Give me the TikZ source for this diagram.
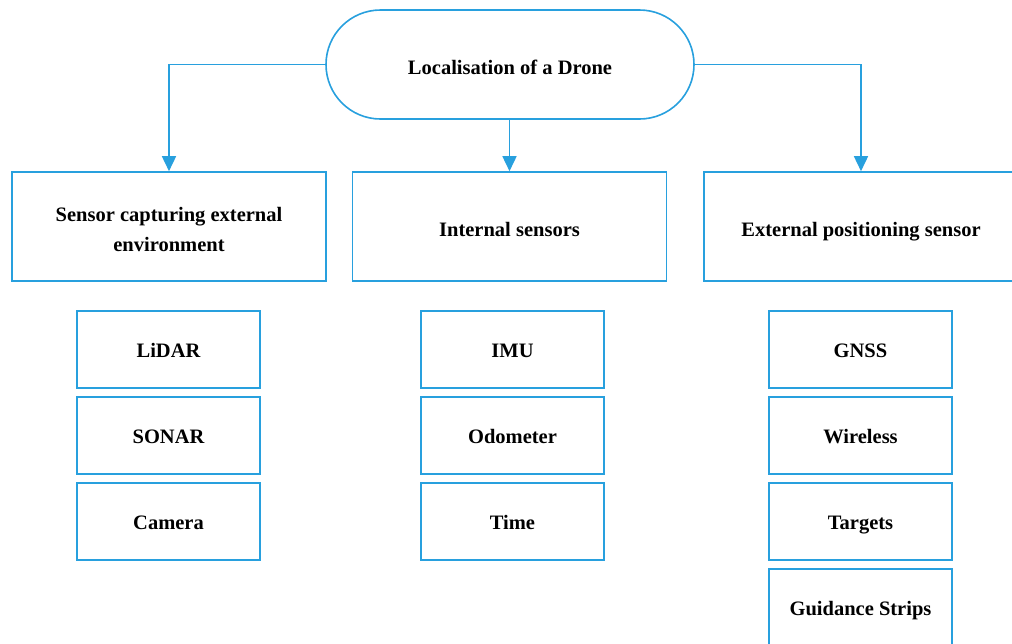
\documentclass[tikz,border=0pt]{standalone}
\usepackage{fontspec}
\setmainfont{Liberation Serif}
\usetikzlibrary{arrows.meta}
\definecolor{lineblue}{RGB}{40,160,222}
\tikzset{
  box/.style={draw=lineblue, line width=1.6pt, fill=white, align=center,
    inner sep=0pt, font=\fontsize{20.5}{30}\selectfont\bfseries,
    text height=19pt, text depth=0pt},
  twoline/.style={text height=49pt},
  topbox/.style={box, minimum width=368pt, minimum height=109pt, rounded corners=54.5pt},
  groupbox/.style={box, minimum width=314pt, minimum height=109pt},
  itembox/.style={box, minimum width=183pt, minimum height=77pt, text height=15pt},
  link/.style={draw=lineblue, line width=1.6pt, -{Triangle[length=15pt,width=14pt]}}
}
\begin{document}
\begin{tikzpicture}[x=1pt,y=-1pt]
\useasboundingbox (0,0) rectangle (1012,643);
\clip (0,0) rectangle (1012,643);

% root
\node[topbox] (root) at (510,64.5) {Localisation of a Drone};

% sensor groups
\node[groupbox, twoline] (ext) at (169,226.5) {Sensor capturing external\\environment};
\node[groupbox] (int)  at (509.5,226.5) {Internal sensors};
\node[groupbox] (pos)  at (861,226.5) {External positioning sensor};

% group members
\node[itembox] (lidar)  at (168.5,349.5) {LiDAR};
\node[itembox] (sonar)  at (168.5,435.5) {SONAR};
\node[itembox] (camera) at (168.5,521.5) {Camera};

\node[itembox] (imu)    at (512.5,349.5) {IMU};
\node[itembox] (odo)    at (512.5,435.5) {Odometer};
\node[itembox] (time)   at (512.5,521.5) {Time};

\node[itembox] (gnss)   at (860.5,349.5) {GNSS};
\node[itembox] (wless)  at (860.5,435.5) {Wireless};
\node[itembox] (targ)   at (860.5,521.5) {Targets};
\node[itembox] (guide)  at (860.5,607.5) {Guidance Strips};

% connectors
\draw[link] (root.west) -| (ext.north);
\draw[link] (root.south -| int.north) -- (int.north);
\draw[link] (root.east) -| (pos.north);
\end{tikzpicture}
\end{document}
